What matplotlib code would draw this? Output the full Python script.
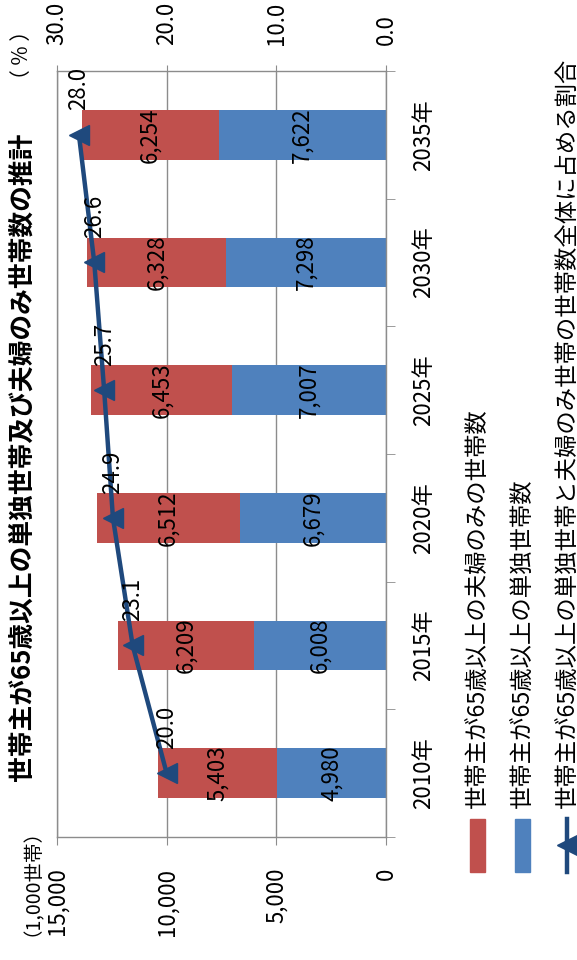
import matplotlib
matplotlib.use("Agg")
import matplotlib.pyplot as plt
from matplotlib.patches import Rectangle
from matplotlib.lines import Line2D

plt.rcParams['font.family'] = ['Noto Sans CJK JP', 'DejaVu Sans']

# data
years = ['2010年', '2015年', '2020年', '2025年', '2030年', '2035年']
single = [4980, 6008, 6679, 7007, 7298, 7622]
couple = [5403, 6209, 6512, 6453, 6328, 6254]
ratio = [20.0, 23.1, 24.9, 25.7, 26.6, 28.0]

title = '世帯主が65歳以上の単独世帯及び夫婦のみ世帯数の推計'
leg_couple = '世帯主が65歳以上の夫婦のみの世帯数'
leg_single = '世帯主が65歳以上の単独世帯数'
leg_ratio = '世帯主が65歳以上の単独世帯と夫婦のみ世帯の世帯数全体に占める割合'

red = '#C0504D'
blue = '#4F81BD'
navy = '#1F497D'
gray = '#8C8C8C'

W, H = 577, 960
fig = plt.figure(figsize=(W / 100, H / 100), dpi=100)
ax = fig.add_axes([57 / W, 1 - 837 / H, 329 / W, 766 / H])

pos = list(range(len(years)))
ax.barh(pos, single, height=0.39, color=blue, zorder=2)
ax.barh(pos, couple, left=single, height=0.39, color=red, zorder=2)

for i in pos:
    ax.text(single[i] / 2, i, f'{single[i]:,}', rotation=90,
            ha='center', va='center', fontsize=16, zorder=3)
    ax.text(single[i] + couple[i] / 2, i, f'{couple[i]:,}', rotation=90,
            ha='center', va='center', fontsize=16, zorder=3)

ax.set_xlim(15000, 0)
ax.set_ylim(-0.5, 5.5)
ax.set_xticks([0, 5000, 10000, 15000])
ax.set_xticklabels(['0', '5,000', '10,000', '15,000'], rotation=90, fontsize=16)
ax.tick_params(axis='x', direction='out', length=6, color=gray, pad=16)
for lab in ax.get_xticklabels():
    lab.set_va('top')

ax.yaxis.tick_right()
ax.set_yticks(pos)
ax.set_yticklabels(years, rotation=90, fontsize=16, va='center')
ax.set_yticks([p - 0.5 for p in pos] + [5.5], minor=True)
ax.tick_params(axis='y', which='major', length=0, pad=19)
ax.tick_params(axis='y', which='minor', length=6.5, color=gray, direction='out')

ax.grid(axis='x', color=gray, lw=1, zorder=1)
for s in ax.spines.values():
    s.set_color(gray)
    s.set_linewidth(1)

ax2 = ax.twiny()
ax2.set_xlim(30, 0)
ax2.set_xticks([0, 10, 20, 30])
ax2.set_xticklabels(['0.0', '10.0', '20.0', '30.0'], rotation=90, fontsize=16)
ax2.tick_params(axis='x', direction='out', length=4.5, color=gray, pad=14)
for s in ax2.spines.values():
    s.set_visible(False)

ax2.plot(ratio, pos, color=navy, lw=3.2, marker='<', markersize=14, zorder=4)
for i in pos:
    ax2.text(ratio[i], i + 0.36, f'{ratio[i]:.1f}', rotation=90,
             ha='center', va='center', fontsize=16, zorder=5)

# titles
fig.text(22 / W, 1 - 457 / H, title, rotation=90, ha='center', va='center',
         fontsize=18.5, fontweight='bold')
fig.text(22 / W, 1 - 55 / H, '（ % ）', rotation=90, ha='center', va='center', fontsize=15)
fig.text(22 / W, 1 - 873 / H, '（1,000世帯）', rotation=90, ha='center', va='center', fontsize=14)

# legend
fig.patches.append(Rectangle((470 / W, 1 - 872 / H), 15 / W, 53 / H,
                             transform=fig.transFigure, color=red))
fig.patches.append(Rectangle((515 / W, 1 - 872 / H), 15 / W, 53 / H,
                             transform=fig.transFigure, color=blue))
fig.lines.append(Line2D([567 / W, 567 / W], [1 - 872 / H, 1 - 819 / H],
                        transform=fig.transFigure, color=navy, lw=3.2))
fig.lines.append(Line2D([567 / W], [1 - 845 / H], transform=fig.transFigure,
                        color=navy, marker='<', markersize=14))
for x, t in [(477, leg_couple), (522, leg_single), (567, leg_ratio)]:
    fig.text(x / W, 1 - 808 / H, t, rotation=90, ha='center', va='bottom', fontsize=16.8)

fig.savefig('out.png', dpi=100)
